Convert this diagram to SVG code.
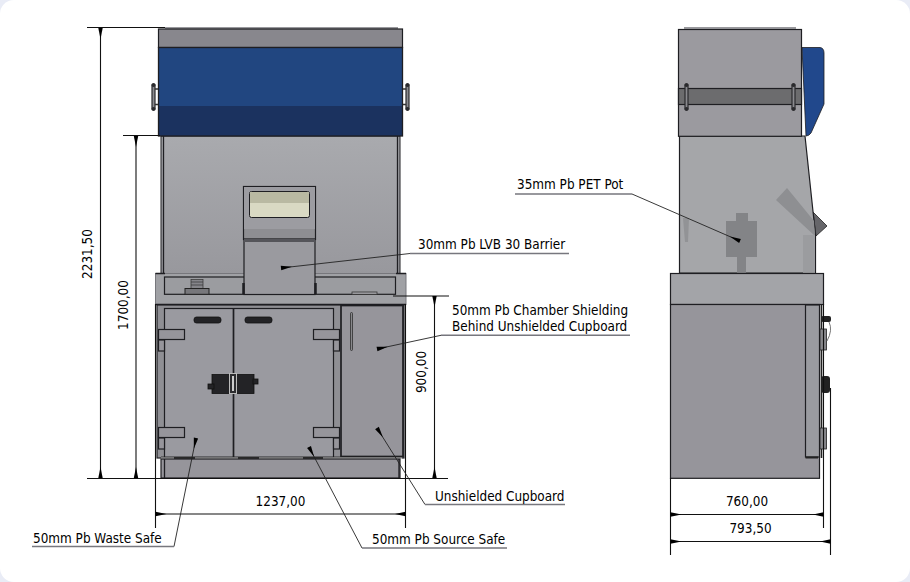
<svg xmlns="http://www.w3.org/2000/svg" width="910" height="582" viewBox="0 0 910 582">
<style>
.k{stroke:#1e1e22;stroke-width:1.3;fill:none}
.g{fill:#96959b;stroke:#1e1e22;stroke-width:1.2}
.l{fill:#a3a4a8;stroke:#1e1e22;stroke-width:1.2}
.m{fill:#88878d;stroke:#1e1e22;stroke-width:1.2}
.d{stroke:#111;stroke-width:1.1;fill:none}
.ld{stroke:#222;stroke-width:.9;fill:none}
.u{stroke:#77777e;stroke-width:1.6;fill:none}
.t{font-family:"DejaVu Sans Condensed","DejaVu Sans",sans-serif;font-stretch:condensed;font-size:13.4px;fill:#000}
.blk{fill:#232326;stroke:#111;stroke-width:.8}
.bolt{stroke:#2a2a2d;stroke-width:1.2;fill:#8a8a8e}
</style>
<defs>
<marker id="a" markerUnits="userSpaceOnUse" markerWidth="12" markerHeight="6" refX="11" refY="3" orient="auto-start-reverse"><path d="M0 3 11 .8V5.200z" fill="#000"/></marker>
<linearGradient id="sh" x1="0" y1="0" x2="0" y2="1"><stop offset="0" stop-color="#a9aaae"/><stop offset="1" stop-color="#98989d"/></linearGradient>
<g id="bolt"><rect class="bolt" x="-1.500" y="0" width="3" height="24"/><circle cx="0" cy="0" r="2" fill="#2a2a2d"/><circle cx="0" cy="24" r="2" fill="#2a2a2d"/></g>
</defs>
<rect width="910" height="582" fill="#e9ecf6"/>
<rect width="910" height="582" rx="14" fill="#fff"/>

<g id="front-unit">
<path d="M165 28H398" stroke="#77777c" stroke-width="1.500" fill="none"/>
<rect x="161" y="136" width="239" height="138" fill="url(#sh)" stroke="#1e1e22" stroke-width="1"/>
<path class="k" d="M163.500 136V273M397.500 136V273"/>
<rect class="m" x="158.500" y="29" width="244" height="18.500" fill="#9a9a9f"/>
<rect x="158.500" y="47.500" width="244" height="58.500" fill="#214680"/>
<rect x="158.500" y="106" width="244" height="30" fill="#1b325f"/>
<rect class="k" x="158.500" y="47.500" width="244" height="88.500"/>
<use href="#bolt" x="153.500" y="85"/><use href="#bolt" x="407.500" y="85"/>
<path d="M155 89H158M403 89H406M155 104.500H158M403 104.500H406" stroke="#333" stroke-width="1.500" fill="none"/>
</g>

<g id="front-shelf">
<rect x="155.500" y="273.500" width="250.500" height="31" fill="#a0a1a5" stroke="#77777c" stroke-width="1"/>
<path d="M155.500 273.500H165M396 273.500H406" class="k"/>
<path d="M155.500 304.500H406" class="k"/>
<rect x="164.500" y="277" width="231" height="17.300" fill="#9b9ca0" stroke="#1e1e22" stroke-width="1.200"/>
<rect x="191" y="279.500" width="12" height="9" fill="#85858a" stroke="#333" stroke-width=".7"/>
<path d="M191 282H203M191 285H203" stroke="#333" stroke-width=".7"/>
<rect x="185" y="288.500" width="24" height="5.800" fill="#77777b" stroke="#222" stroke-width="1"/>
<rect x="352" y="292" width="25" height="2.300" fill="#a3a4a8" stroke="#333" stroke-width=".8"/>
</g>

<g id="front-barrier">
<rect x="243.500" y="186.500" width="72" height="53" fill="#8e8e92" stroke="#1e1e22" stroke-width="1.200"/>
<rect x="244" y="187" width="71" height="42" fill="#9c9ca1"/>
<rect x="249.500" y="191.500" width="60" height="26" rx="2" fill="#d9d9c3" stroke="#1e1e22" stroke-width="1"/>
<rect x="250" y="192" width="59" height="11" fill="#b9b9a2"/>
<rect x="244" y="239" width="71" height="55.500" fill="#9a9a9f" stroke="#1e1e22" stroke-width="1.200"/>
<rect x="244" y="239" width="71" height="3" fill="#55555a"/>
<path d="M243.500 283V294M315.500 283V294" stroke="#1e1e22" stroke-width="2.500"/>
</g>

<g id="front-cupboards">
<rect x="157" y="305" width="247" height="153" fill="#8f8f94" stroke="#1e1e22" stroke-width="1.200"/>
<rect x="164.500" y="308.500" width="169" height="149" fill="#9a9aa0" stroke="#1e1e22" stroke-width="1.200"/>
<path d="M233.500 308.500V457.500" stroke="#1e1e22" stroke-width="1.700"/>
<rect class="g" x="158.500" y="329.500" width="26" height="10"/><rect class="g" x="158.500" y="340" width="6" height="11"/>
<rect class="g" x="158.500" y="427.500" width="26" height="10"/><rect class="g" x="158.500" y="438" width="6" height="11"/>
<rect class="g" x="313.500" y="329.500" width="26" height="10"/><rect class="g" x="333.500" y="340" width="6" height="11"/>
<rect class="g" x="313.500" y="427.500" width="26" height="10"/><rect class="g" x="333.500" y="438" width="6" height="11"/>
<rect class="blk" x="194" y="317" width="27" height="6" rx="2.500"/>
<rect class="blk" x="245" y="317" width="27" height="6" rx="2.500"/>
<rect class="blk" x="212" y="374.500" width="19" height="19"/>
<rect class="blk" x="236" y="374.500" width="18" height="19"/>
<rect class="blk" x="208" y="384" width="6" height="5"/>
<rect class="blk" x="253" y="379" width="5" height="5"/>
<rect x="229.500" y="373.500" width="7" height="20" fill="#2b2b2e" stroke="#bbb" stroke-width="1"/>
<rect x="232" y="376" width="2" height="15" fill="#ccc"/>
<rect x="341" y="305.500" width="62" height="151" fill="#96959b" stroke="#1e1e22" stroke-width="1.700"/>
<rect x="350.500" y="312.500" width="2" height="38" rx="1" fill="#88888c" stroke="#222" stroke-width=".7"/>
<path d="M161 458H402" stroke="#ddd" stroke-width="1.600"/>
<path d="M161 457H402" stroke="#222" stroke-width=".8"/>
<path d="M174 458H195M238 458H259M303 458H323" stroke="#111" stroke-width="1.600"/>
<rect class="g" x="161" y="459" width="239" height="19"/>
<path class="k" d="M164.500 459V478M399 459V478"/>
</g>

<g id="side-unit">
<path d="M802 47.500H820Q824 48 824 53V104L811 133Q809 136 806 136Z" fill="#21488c" stroke="#1e1e22" stroke-width=".8"/>
<path d="M813 212 827 226 816 236Z" fill="#66666a" stroke="#222" stroke-width=".8"/>
<path d="M679.500 136H805L815.500 235V273H679.500Z" fill="#a5a6a9" stroke="#1e1e22" stroke-width="1.200"/>
<path d="M776 200 787 188 814 221 815 236Z" fill="#8e8f92"/>
<path d="M803 235H815V273H803Z" fill="#9b9c9f"/>
<path d="M736 213H748V221H757V257H746V273H737V257H726V221H736Z" fill="#838487"/>
<path d="M683 218H689L688 242H685Z" fill="#929396"/>
<rect x="678.500" y="29.500" width="123" height="106.800" fill="#9b9a9f" stroke="#1e1e22" stroke-width="1.200"/>
<path d="M684 28H796" stroke="#77777c" stroke-width="1.500"/>
<rect x="678.500" y="88.500" width="123" height="16" fill="#6c6c6e" stroke="#1e1e22" stroke-width="1.200"/>
<use href="#bolt" x="686.500" y="85"/><use href="#bolt" x="793.500" y="85"/>
</g>

<g id="side-lower">
<rect class="l" x="670.500" y="273.500" width="153" height="31"/>
<rect class="g" x="670.500" y="304.500" width="149" height="173.800"/>
<rect x="805.500" y="305" width="14" height="152" fill="#9a9ba0" stroke="#1e1e22" stroke-width="1.200"/>
<path d="M805.500 457.500H818" stroke="#222" stroke-width="2"/>
<path d="M821.500 305V458" stroke="#222" stroke-width="1.600"/>
<rect x="820" y="329" width="6.500" height="21" fill="#86868a" stroke="#222" stroke-width=".8"/>
<rect x="820" y="428" width="6.500" height="21" fill="#86868a" stroke="#222" stroke-width=".8"/>
<rect x="821" y="316" width="10" height="6" rx="2" fill="#222"/>
<rect x="821" y="376" width="9" height="17" rx="3" fill="#222"/>
<path d="M829 322Q833 330 827 341" stroke="#777" fill="none"/>
</g>

<g id="connectors">
<path class="d" d="M87 27.500H165M123 135.500H160M87 478.500H448M393 296H449"/>
<path class="d" d="M155.500 304V528M405.500 304V528M670.500 478V555M823.500 304V528M830.500 388V555"/>
<path class="d" marker-start="url(#a)" marker-end="url(#a)" d="M100.500 28V478"/>
<path class="d" marker-start="url(#a)" marker-end="url(#a)" d="M136 136V478"/>
<path class="d" marker-start="url(#a)" marker-end="url(#a)" d="M434.500 296V478"/>
<path class="d" marker-start="url(#a)" marker-end="url(#a)" d="M155.500 514H405.500"/>
<path class="d" marker-start="url(#a)" marker-end="url(#a)" d="M670.500 514.500H823.500"/>
<path class="d" marker-start="url(#a)" marker-end="url(#a)" d="M670.500 541.500H830.500"/>
<path class="ld" marker-end="url(#a)" d="M410 253.500 281 268"/>
<path class="ld" marker-end="url(#a)" d="M441 335.300 377 349"/>
<path class="ld" marker-end="url(#a)" d="M632 194 740 241"/>
<path class="ld" marker-end="url(#a)" d="M425 504.500 377 428"/>
<path class="ld" marker-end="url(#a)" d="M362 548 309 447"/>
<path class="ld" marker-end="url(#a)" d="M174 546.500 196 438"/>
<path class="u" d="M410 253.500H569M441 335.300H630M515 194H632M425 504.500H565M362 548H507M32 546.500H174"/>
</g>

<g id="labels">
<text class="t" transform="translate(92 254) rotate(-90)" text-anchor="middle">2231,50</text>
<text class="t" transform="translate(128 305) rotate(-90)" text-anchor="middle">1700,00</text>
<text class="t" transform="translate(426 372) rotate(-90)" text-anchor="middle">900,00</text>
<text class="t" x="280.500" y="506" text-anchor="middle">1237,00</text>
<text class="t" x="747" y="506" text-anchor="middle">760,00</text>
<text class="t" x="750.500" y="533" text-anchor="middle">793,50</text>
<text class="t" x="418" y="248.500">30mm Pb LVB 30 Barrier</text>
<text class="t" x="452" y="315">50mm Pb Chamber Shielding</text>
<text class="t" x="452" y="331">Behind Unshielded Cupboard</text>
<text class="t" x="517" y="189">35mm Pb PET Pot</text>
<text class="t" x="435" y="501">Unshielded Cupboard</text>
<text class="t" x="372" y="544">50mm Pb Source Safe</text>
<text class="t" x="33" y="543">50mm Pb Waste Safe</text>
</g>
</svg>
